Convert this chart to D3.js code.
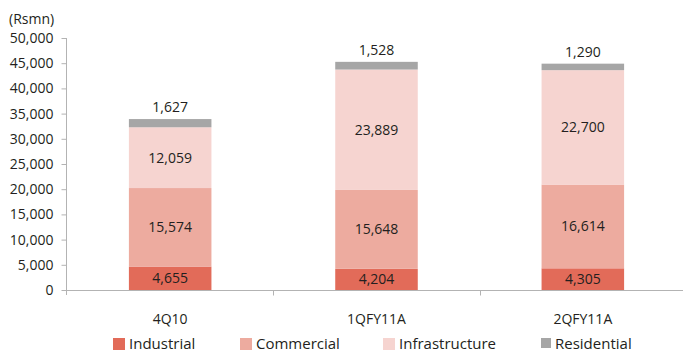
<!DOCTYPE html>
<html>
<head>
<meta charset="utf-8">
<script src="https://cdn.jsdelivr.net/npm/d3@7"></script>
<style>
  html, body { margin: 0; padding: 0; background: #fff; }
  svg text { font-family: "Open Sans", "Noto Sans", sans-serif; fill: #231f20; }
</style>
</head>
<body>
<svg id="chart" width="683" height="355"></svg>
<script>
// Order book by segment (Rs mn)
const categories = ["4Q10", "1QFY11A", "2QFY11A"];
const seriesNames = ["Industrial", "Commercial", "Infrastructure", "Residential"];
const industrial = [4655, 4204, 4305];
const commercial = [15574, 15648, 16614];
const infrastructure = [12059, 23889, 22700];
const residential = [1627, 1528, 1290];
const yTicks = [0, 5000, 10000, 15000, 20000, 25000, 30000, 35000, 40000, 45000, 50000];
const colors = ["#e26b59", "#edab9f", "#f6d4d0", "#a6a6a6"];

const seriesValues = [industrial, commercial, infrastructure, residential];
const rows = categories.map((c, i) => {
  const r = { cat: c };
  seriesNames.forEach((s, k) => { r[s] = seriesValues[k][i]; });
  return r;
});
const stacked = d3.stack().keys(seriesNames)(rows);

const svg = d3.select("#chart");
const fmt = d3.format(",");
const axisColor = "#b3b3b3";

const x = d3.scaleBand().domain(categories).range([67, 686])
  .paddingInner(0.6).paddingOuter(0.3);
const y = d3.scaleLinear().domain([0, 50000]).range([290, 38]);

// bars
const layer = svg.append("g").selectAll("g").data(stacked).join("g")
  .attr("fill", (d, i) => colors[i]);
layer.selectAll("rect").data(d => d).join("rect")
  .attr("x", d => x(d.data.cat))
  .attr("width", x.bandwidth())
  .attr("y", d => y(d[1]))
  .attr("height", d => y(d[0]) - y(d[1]));

// value labels: inside for the first three segments, above for the top one
stacked.forEach((s, k) => {
  const top = k === seriesNames.length - 1;
  svg.append("g").selectAll("text").data(s).join("text")
    .attr("x", d => x(d.data.cat) + x.bandwidth() / 2)
    .attr("y", d => top ? y(d[1]) - 7 : (y(d[0]) + y(d[1])) / 2)
    .attr("dy", top ? 0 : "0.35em")
    .attr("text-anchor", "middle")
    .style("font-size", "14px")
    .text(d => fmt(d[1] - d[0]));
});

// y axis
const yAxis = svg.append("g").attr("transform", "translate(66.5,0)")
  .call(d3.axisLeft(y).tickValues(yTicks).tickSize(5).tickPadding(8).tickFormat(fmt));
yAxis.select(".domain").attr("d", "M0,38V295").attr("stroke", axisColor);
yAxis.selectAll(".tick line").attr("stroke", axisColor);
yAxis.selectAll(".tick text").style("font-size", "14px").attr("fill", "#231f20");

// x axis baseline with ticks between categories
const step = x.step();
const xAxis = svg.append("g").attr("transform", "translate(0,290.5)");
xAxis.append("line").attr("x1", 66).attr("x2", 683).attr("stroke", axisColor);
categories.slice(1).forEach(c => {
  const bx = Math.round(x(c) - x.paddingInner() * step / 2) + 0.5;
  xAxis.append("line").attr("x1", bx).attr("x2", bx).attr("y1", 0).attr("y2", 5)
    .attr("stroke", axisColor);
});
xAxis.selectAll("text.cat").data(categories).join("text")
  .attr("class", "cat")
  .attr("x", d => x(d) + x.bandwidth() / 2)
  .attr("y", 33)
  .attr("text-anchor", "middle")
  .style("font-size", "14px")
  .text(d => d);

// unit label
svg.append("text").attr("x", 9).attr("y", 24).style("font-size", "14px").text("(Rsmn)");

// legend
const legendX = [113, 240, 383, 541];
const swatch = [12, 12, 12, 10];
const legend = svg.append("g").selectAll("g").data(seriesNames).join("g")
  .attr("transform", (d, i) => `translate(${legendX[i]},338)`);
legend.append("rect")
  .attr("width", (d, i) => swatch[i]).attr("height", (d, i) => swatch[i])
  .attr("fill", (d, i) => colors[i]);
legend.append("text").attr("x", (d, i) => swatch[i] + 4).attr("y", 11)
  .style("font-size", "15px").text(d => d);
</script>
</body>
</html>
